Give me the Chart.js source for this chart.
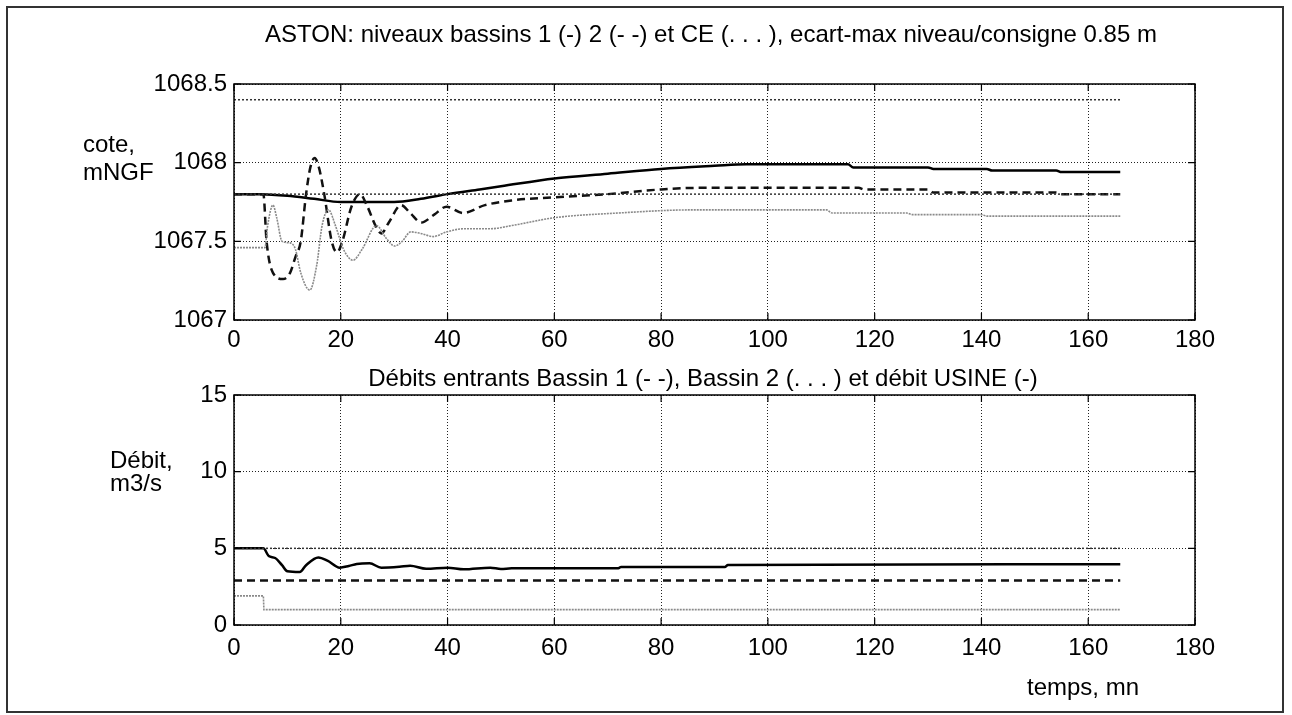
<!DOCTYPE html>
<html>
<head>
<meta charset="utf-8">
<script src="https://cdn.jsdelivr.net/npm/chart.js@4.4.1/dist/chart.umd.min.js"></script>
<style>
body { margin: 0; background: #fff; }
#wrap { position: relative; width: 1292px; height: 715px; }
#frame { position: absolute; left: 6px; top: 6px; width: 1274px; height: 703px; border: 2px solid #333; }
canvas { position: absolute; left: 0; }
</style>
</head>
<body>
<div id="wrap">
    <div id="frame"></div>
    <canvas id="chartNiveaux" width="1292" height="360" style="top:0px"></canvas>
    <canvas id="chartDebits" width="1292" height="355" style="top:360px"></canvas>
</div>
<script>
// ticks
const xTicks = [0, 20, 40, 60, 80, 100, 120, 140, 160, 180];
const yTicksNiveaux = [1067, 1067.5, 1068, 1068.5];
const yTicksDebits = [0, 5, 10, 15];

// niveaux (mNGF)
const tempsB1 = [0, 5, 10, 15, 20, 30, 35, 40, 46, 50, 60, 70, 80, 90, 96, 115, 116, 130, 131, 141, 142, 154, 155, 166];
const niveauB1 = [1067.8, 1067.8, 1067.79, 1067.77, 1067.75, 1067.75, 1067.77, 1067.8, 1067.83, 1067.85, 1067.9, 1067.93, 1067.96, 1067.98, 1067.99, 1067.99, 1067.97, 1067.97, 1067.96, 1067.96, 1067.95, 1067.95, 1067.94, 1067.94];

const tempsB2 = [0, 5.5, 6.1, 7.3, 9.2, 10.5, 11.5, 12.5, 13.5, 14.3, 15.1, 15.9, 16.9, 18.3, 19.3, 20.3, 22, 23.6, 25, 26.5, 27.6, 29, 31.3, 33, 35.1, 37.5, 39.8, 42.9, 47, 52, 60, 70, 80, 87, 117, 118, 130, 131, 154, 155, 166];
const niveauB2 = [1067.8, 1067.8, 1067.5, 1067.3, 1067.26, 1067.3, 1067.4, 1067.5, 1067.8, 1067.97, 1068.03, 1067.97, 1067.8, 1067.5, 1067.43, 1067.5, 1067.72, 1067.8, 1067.72, 1067.6, 1067.55, 1067.62, 1067.73, 1067.68, 1067.62, 1067.67, 1067.72, 1067.68, 1067.73, 1067.76, 1067.78, 1067.8, 1067.83, 1067.84, 1067.84, 1067.83, 1067.83, 1067.81, 1067.81, 1067.8, 1067.8];

const tempsCE = [0, 5.8, 6.3, 7.3, 8, 9, 10.5, 11.5, 12.5, 14.2, 15.5, 16.5, 17.7, 19, 20.5, 22.3, 24, 26.7, 28.5, 30.1, 31.5, 33.1, 35, 37.3, 39.8, 43, 48, 52, 60, 72, 86, 111, 112, 126, 127, 140, 141, 166];
const niveauCE = [1067.46, 1067.46, 1067.6, 1067.73, 1067.65, 1067.5, 1067.49, 1067.45, 1067.3, 1067.19, 1067.35, 1067.6, 1067.7, 1067.6, 1067.45, 1067.38, 1067.45, 1067.6, 1067.52, 1067.47, 1067.5, 1067.56, 1067.55, 1067.53, 1067.56, 1067.58, 1067.58, 1067.6, 1067.65, 1067.68, 1067.7, 1067.7, 1067.68, 1067.68, 1067.67, 1067.67, 1067.66, 1067.66];

const tempsRef = [0, 166];
const niveauMax = [1068.4, 1068.4];
const niveauConsigne = [1067.8, 1067.8];

// debits (m3/s)
const tempsUsine = [0, 5.5, 6.5, 7.7, 9, 10, 12.3, 13.5, 15.8, 17.5, 19.8, 21.5, 23, 25.4, 27.6, 31, 33, 36, 40, 43, 48, 50, 52, 72, 72.5, 92, 92.5, 166];
const debitUsine = [5, 5, 4.5, 4.37, 3.9, 3.5, 3.45, 3.9, 4.41, 4.2, 3.74, 3.85, 3.98, 4.02, 3.74, 3.8, 3.87, 3.67, 3.74, 3.63, 3.74, 3.65, 3.7, 3.7, 3.79, 3.79, 3.92, 3.96];

const tempsBassin1 = [0, 166];
const debitBassin1 = [2.9, 2.9];

const tempsBassin2 = [0, 5.5, 5.6, 166];
const debitBassin2 = [1.9, 1.9, 1.0, 1.0];

const debitRef = [5, 5];

const pairs = (xs, ys) => xs.map((x, i) => ({ x: x, y: ys[i] }));

Chart.defaults.font.family = "'Liberation Sans', Arial, sans-serif";
Chart.defaults.font.size = 24;
Chart.defaults.color = '#000';

// cadre, petites graduations et textes
const habillage = {
    id: 'habillage',
    afterDraw(chart, args, opts) {
        const ctx = chart.ctx;
        const a = chart.chartArea;
        const xs = chart.scales.x;
        const ys = chart.scales.y;
        ctx.save();
        ctx.strokeStyle = '#000';
        ctx.lineWidth = 1.5;
        ctx.setLineDash([]);
        ctx.strokeRect(a.left, a.top, a.right - a.left, a.bottom - a.top);
        ctx.lineWidth = 1.2;
        ctx.beginPath();
        xs.ticks.forEach(t => {
            const p = xs.getPixelForValue(t.value);
            ctx.moveTo(p, a.bottom); ctx.lineTo(p, a.bottom - 7);
            ctx.moveTo(p, a.top); ctx.lineTo(p, a.top + 7);
        });
        ys.ticks.forEach(t => {
            const p = ys.getPixelForValue(t.value);
            ctx.moveTo(a.left, p); ctx.lineTo(a.left + 7, p);
            ctx.moveTo(a.right, p); ctx.lineTo(a.right - 7, p);
        });
        ctx.stroke();
        ctx.fillStyle = '#000';
        ctx.font = "24px 'Liberation Sans', Arial, sans-serif";
        ctx.textBaseline = 'alphabetic';
        (opts.textes || []).forEach(t => {
            ctx.textAlign = t.align || 'left';
            ctx.fillText(t.text, t.x, t.y);
        });
        ctx.restore();
    }
};

const axes = (yTicks, yMin, yMax, xHeight, xPad) => ({
    x: {
        type: 'linear',
        min: 0,
        max: 180,
        afterBuildTicks: s => { s.ticks = xTicks.map(v => ({ value: v })); },
        afterFit: s => { s.height = xHeight; },
        ticks: { padding: xPad, callback: v => String(v), maxRotation: 0, autoSkip: false },
        grid: { color: '#222', lineWidth: 1, drawTicks: false },
        border: { display: false, dash: [1, 2] }
    },
    y: {
        min: yMin,
        max: yMax,
        afterBuildTicks: s => { s.ticks = yTicks.map(v => ({ value: v })); },
        afterFit: s => { s.width = 160; },
        ticks: { padding: 7, callback: v => String(v), autoSkip: false },
        grid: { color: '#222', lineWidth: 1, drawTicks: false },
        border: { display: false, dash: [1, 2] }
    }
});

const serie = (xs, ys, color, width, dash, smooth) => ({
    data: pairs(xs, ys),
    borderColor: color,
    borderWidth: width,
    borderDash: dash,
    pointRadius: 0,
    fill: false,
    cubicInterpolationMode: smooth ? 'monotone' : 'default',
    tension: 0
});

new Chart(document.getElementById('chartNiveaux'), {
    type: 'line',
    data: {
        datasets: [
            serie(tempsRef, niveauMax, '#333', 1.5, [2, 2], false),
            serie(tempsRef, niveauConsigne, '#333', 1.5, [2, 2], false),
            serie(tempsCE, niveauCE, '#8a8a8a', 1.6, [2, 1], true),
            serie(tempsB2, niveauB2, '#111', 2.5, [8, 5], true),
            serie(tempsB1, niveauB1, '#000', 2.5, [], true)
        ]
    },
    options: {
        responsive: false,
        animation: false,
        layout: { padding: { left: 74, right: 97, top: 84, bottom: 0 } },
        scales: axes(yTicksNiveaux, 1067, 1068.5, 40, 6),
        plugins: {
            legend: { display: false },
            tooltip: { enabled: false },
            habillage: {
                textes: [
                    { text: 'ASTON: niveaux bassins 1 (-) 2 (- -) et CE (. . . ), ecart-max niveau/consigne 0.85 m', x: 711, y: 42, align: 'center' },
                    { text: 'cote,', x: 83, y: 152 },
                    { text: 'mNGF', x: 83, y: 180 }
                ]
            }
        }
    },
    plugins: [habillage]
});

new Chart(document.getElementById('chartDebits'), {
    type: 'line',
    data: {
        datasets: [
            serie(tempsRef, debitRef, '#333', 1.5, [2, 2], false),
            serie(tempsBassin2, debitBassin2, '#8a8a8a', 1.6, [2, 1], false),
            serie(tempsBassin1, debitBassin1, '#111', 2.5, [8, 5], false),
            serie(tempsUsine, debitUsine, '#000', 2.5, [], true)
        ]
    },
    options: {
        responsive: false,
        animation: false,
        layout: { padding: { left: 74, right: 97, top: 35, bottom: 40 } },
        scales: axes(yTicksDebits, 0, 15, 50, 9),
        plugins: {
            legend: { display: false },
            tooltip: { enabled: false },
            habillage: {
                textes: [
                    { text: 'Débits entrants Bassin 1 (- -), Bassin 2 (. . . ) et débit USINE (-)', x: 703, y: 26, align: 'center' },
                    { text: 'Débit,', x: 110, y: 108 },
                    { text: 'm3/s', x: 110, y: 131 },
                    { text: 'temps, mn', x: 1083, y: 335, align: 'center' }
                ]
            }
        }
    },
    plugins: [habillage]
});
</script>
</body>
</html>
